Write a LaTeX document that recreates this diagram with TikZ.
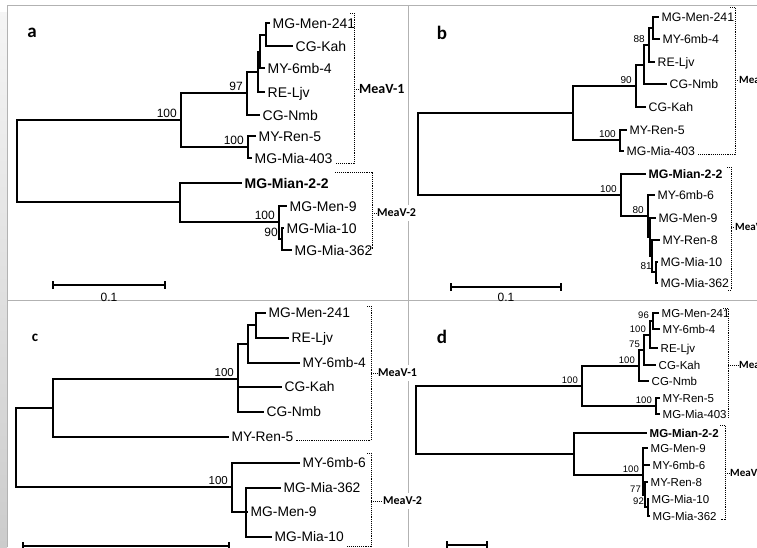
\documentclass[tikz,border=0pt]{standalone}
\usepackage{fontspec}
\setmainfont{Liberation Sans}
\newfontfamily\labfont{Carlito}
\usepackage{tikz}
\usetikzlibrary{arrows.meta}

\begin{document}
\begin{tikzpicture}[
x=1pt, y=-1pt,
br/.style={line width=2.5pt},
leaf/.style={anchor=west, inner xsep=2.5pt, inner ysep=0pt, text depth=0pt},
bs/.style={anchor=south east, inner sep=0pt, xshift=-4pt, yshift=2.5pt},
grp/.style={densely dotted, line width=0.9pt},
clade/.style={anchor=west, fill=white, inner xsep=1pt, inner ysep=4pt, font=\labfont\bfseries\fontsize{12}{14}\selectfont},
panel/.style={font=\labfont\bfseries\fontsize{19}{19}\selectfont},
sbar/.style={line width=1.6pt, {Bar[width=8pt]}-{Bar[width=8pt]}},
frm/.style={gray!60, line width=1pt}
]
\useasboundingbox (0,0) rectangle (757,547);
\clip (0,0) rectangle (757,547);
\shade[top color=gray!8, bottom color=gray!40] (0,12) rectangle (7,547);
\draw[frm] (7.5,547) -- (7.5,5) -- (757,5);
\draw[frm] (7.5,300) -- (757,300);
\draw[frm] (408,5) -- (408,547);

% panel a
\begin{scope}[leaf/.append style={font=\fontsize{14}{16}\selectfont, text height=10pt},
bs/.append style={font=\fontsize{12}{14}\selectfont}]
\node[panel] (la) at (32,33) {a};
\node[leaf] (a1) at (270,23) {MG-Men-241};
\node[leaf] (a2) at (293,46) {CG-Kah};
\node[leaf] (a3) at (265,68) {MY-6mb-4};
\node[leaf] (a4) at (265,92) {RE-Ljv};
\node[leaf] (a5) at (260,115) {CG-Nmb};
\node[leaf] (a6) at (256,136) {MY-Ren-5};
\node[leaf] (a7) at (252,158) {MG-Mia-403};
\node[leaf] (a8) at (242,183) {\bfseries MG-Mian-2-2};
\node[leaf] (a9) at (287,206) {MG-Men-9};
\node[leaf] (a10) at (284,228) {MG-Mia-10};
\node[leaf] (a11) at (292,250) {MG-Mia-362};
\coordinate (a-k1) at (266,35);
\coordinate (a-k2) at (260,52);
\coordinate (a-k3) at (258,72);
\coordinate (a-k4) at (247,93);
\coordinate (a-k5) at (248,147);
\coordinate (a-k6) at (181,120);
\coordinate (a-k9) at (282,239);
\coordinate (a-k8) at (279,222);
\coordinate (a-k7) at (180,202);
\coordinate (a-k0) at (17,161);
\draw[br] (a-k1) |- (a1.west) (a-k1) |- (a2.west)
 (a-k2) |- (a-k1) (a-k2) |- (a3.west)
 (a-k3) |- (a-k2) (a-k3) |- (a4.west)
 (a-k4) |- (a-k3) (a-k4) |- (a5.west)
 (a-k5) |- (a6.west) (a-k5) |- (a7.west)
 (a-k6) |- (a-k4) (a-k6) |- (a-k5)
 (a-k9) |- (a10.west) (a-k9) |- (a11.west)
 (a-k8) |- (a9.west) (a-k8) |- (a-k9)
 (a-k7) |- (a8.west) (a-k7) |- (a-k8)
 (a-k0) |- (a-k6) (a-k0) |- (a-k7);
\node[bs] (a-b4) at (a-k4) {97};
\node[bs] (a-b5) at (a-k5) {100};
\node[bs] (a-b6) at (a-k6) {100};
\node[bs] (a-b8) at (a-k8) {100};
\node[bs] (a-b9) at (a-k9) {90};
\coordinate (a-s1) at (52,285);
\coordinate (a-s2) at (166,285);
\draw[sbar] (a-s1) -- (a-s2);
\node[font=\fontsize{12}{14}\selectfont] (a-st) at (109,297) {0.1};
\node[clade, font=\labfont\bfseries\fontsize{14}{16}\selectfont] (a-c1) at (358,89) {MeaV-1};
\node[clade] (a-c2) at (376,213) {MeaV-2};
\coordinate (a-g1) at (354,13);
\coordinate (a-g2) at (354,163);
\coordinate (a-g3) at (372,172);
\coordinate (a-g4) at (372,248);
\draw[grp] ([xshift=-4pt]a-g1) -- (a-g1) -- (a-g2) -- (a7.south east |- a-g2);
\draw[grp] (a-c1.west -| a-g1) -- (a-c1.west);
\draw[grp] (a7.south east |- a-g3) -- (a-g3) -- (a-g4) -- ([xshift=-4pt]a-g4);
\draw[grp] (a-c2.west -| a-g3) -- (a-c2.west);
\end{scope}

% panel b
\begin{scope}[leaf/.append style={font=\fontsize{12.3}{14}\selectfont, text height=8.8pt},
bs/.append style={font=\fontsize{10}{12}\selectfont}]
\node[panel] (lb) at (442,33) {b};
\node[leaf] (b1) at (659,17) {MG-Men-241};
\node[leaf] (b2) at (660,39) {MY-6mb-4};
\node[leaf] (b3) at (655,62) {RE-Ljv};
\node[leaf] (b4) at (667,84) {CG-Nmb};
\node[leaf] (b5) at (646,107) {CG-Kah};
\node[leaf] (b6) at (627,130) {MY-Ren-5};
\node[leaf] (b7) at (624,151) {MG-Mia-403};
\node[leaf] (b8) at (646,174) {\bfseries MG-Mian-2-2};
\node[leaf] (b9) at (655,195) {MY-6mb-6};
\node[leaf] (b10) at (656,218) {MG-Men-9};
\node[leaf] (b11) at (660,240) {MY-Ren-8};
\node[leaf] (b12) at (658,262) {MG-Mia-10};
\node[leaf] (b13) at (658,283) {MG-Mia-362};
\coordinate (b-k1) at (653,28);
\coordinate (b-k2) at (649,45);
\coordinate (b-k3) at (644,65);
\coordinate (b-k4) at (636,86);
\coordinate (b-k5) at (620,140);
\coordinate (b-k6) at (573,113);
\coordinate (b-k11) at (656,272);
\coordinate (b-k10) at (652,256);
\coordinate (b-k9) at (650,237);
\coordinate (b-k8) at (648,216);
\coordinate (b-k7) at (621,195);
\coordinate (b-k0) at (418,154);
\draw[br] (b-k1) |- (b1.west) (b-k1) |- (b2.west)
 (b-k2) |- (b-k1) (b-k2) |- (b3.west)
 (b-k3) |- (b-k2) (b-k3) |- (b4.west)
 (b-k4) |- (b-k3) (b-k4) |- (b5.west)
 (b-k5) |- (b6.west) (b-k5) |- (b7.west)
 (b-k6) |- (b-k4) (b-k6) |- (b-k5)
 (b-k11) |- (b12.west) (b-k11) |- (b13.west)
 (b-k10) |- (b11.west) (b-k10) |- (b-k11)
 (b-k9) |- (b10.west) (b-k9) |- (b-k10)
 (b-k8) |- (b9.west) (b-k8) |- (b-k9)
 (b-k7) |- (b8.west) (b-k7) |- (b-k8)
 (b-k0) |- (b-k6) (b-k0) |- (b-k7);
\node[bs] (b-b2) at (b-k2) {88};
\node[bs] (b-b4) at (b-k4) {90};
\node[bs] (b-b5) at (b-k5) {100};
\node[bs] (b-b7) at (b-k7) {100};
\node[bs] (b-b8) at (b-k8) {80};
\node[bs] (b-b11) at (b-k11) {81};
\coordinate (b-s1) at (450,287);
\coordinate (b-s2) at (562,287);
\draw[sbar] (b-s1) -- (b-s2);
\node[font=\fontsize{12}{14}\selectfont] (b-st) at (506,297) {0.1};
\node[clade, font=\labfont\bfseries\fontsize{11}{13}\selectfont] (b-c1) at (738,80) {MeaV-1};
\node[clade, font=\labfont\bfseries\fontsize{11}{13}\selectfont] (b-c2) at (734,227) {MeaV-2};
\coordinate (b-g1) at (735,7);
\coordinate (b-g2) at (735,154);
\coordinate (b-g3) at (731,167);
\coordinate (b-g4) at (731,290);
\draw[grp] ([xshift=-5pt]b-g1) -- (b-g1) -- (b-g2) -- (b7.south east |- b-g2);
\draw[grp] (b-c1.west -| b-g1) -- (b-c1.west);
\draw[grp] ([xshift=-4pt]b-g3) -- (b-g3) -- (b-g4) -- ([xshift=-4pt]b-g4);
\draw[grp] (b-c2.west -| b-g3) -- (b-c2.west);
\end{scope}

% panel c
\begin{scope}[leaf/.append style={font=\fontsize{13.8}{16}\selectfont, text height=9.9pt},
bs/.append style={font=\fontsize{11.5}{13}\selectfont}]
\node[panel, font=\labfont\bfseries\fontsize{15}{15}\selectfont] (lc) at (35,338) {c};
\node[leaf] (c1) at (266,313) {MG-Men-241};
\node[leaf] (c2) at (289,338) {RE-Ljv};
\node[leaf] (c3) at (300,363) {MY-6mb-4};
\node[leaf] (c4) at (282,387) {CG-Kah};
\node[leaf] (c5) at (264,412) {CG-Nmb};
\node[leaf] (c6) at (229,437) {MY-Ren-5};
\node[leaf] (c7) at (300,463) {MY-6mb-6};
\node[leaf] (c8) at (281,488) {MG-Mia-362};
\node[leaf] (c9) at (248,512) {MG-Men-9};
\node[leaf] (c10) at (272,537) {MG-Mia-10};
\coordinate (c-k1) at (256,325);
\coordinate (c-k2) at (248,344);
\coordinate (c-k3) at (238,379);
\coordinate (c-k4) at (53,408);
\coordinate (c-k6) at (246,512);
\coordinate (c-k5) at (232,487);
\coordinate (c-k0) at (16,447);
\draw[br] (c-k1) |- (c1.west) (c-k1) |- (c2.west)
 (c-k2) |- (c-k1) (c-k2) |- (c3.west)
 (c-k3) |- (c-k2) (c-k3) |- (c4.west) (c-k3) |- (c5.west)
 (c-k4) |- (c-k3) (c-k4) |- (c6.west)
 (c-k6) |- (c8.west) (c-k6) |- (c9.west) (c-k6) |- (c10.west)
 (c-k5) |- (c7.west) (c-k5) |- (c-k6)
 (c-k0) |- (c-k4) (c-k0) |- (c-k5);
\node[bs] (c-b3) at (c-k3) {100};
\node[bs] (c-b5) at (c-k5) {100};
\coordinate (c-s1) at (22,546);
\coordinate (c-s2) at (230,546);
\draw[sbar] (c-s1) -- (c-s2);
\node[clade] (c-c1) at (377,373) {MeaV-1};
\node[clade] (c-c2) at (382,501) {MeaV-2};
\coordinate (c-g1) at (371,306);
\coordinate (c-g2) at (371,440);
\coordinate (c-g3) at (371,453);
\coordinate (c-g4) at (371,546);
\draw[grp] ([xshift=-4pt]c-g1) -- (c-g1) -- (c-g2) -- (c6.south east |- c-g2);
\draw[grp] (c-c1.west -| c-g1) -- (c-c1.west);
\draw[grp] ([xshift=-4pt]c-g3) -- (c-g3) -- (c-g4) -- (c10.south east |- c-g4);
\draw[grp] (c-c2.west -| c-g3) -- (c-c2.west);
\end{scope}

% panel d
\begin{scope}[br/.append style={line width=2.2pt},
leaf/.append style={font=\fontsize{11.5}{13}\selectfont, text height=8.2pt},
bs/.append style={font=\fontsize{9.5}{11}\selectfont}]
\node[panel] (ld) at (442,337) {d};
\node[leaf] (d1) at (659,313) {MG-Men-241};
\node[leaf] (d2) at (660,329) {MY-6mb-4};
\node[leaf] (d3) at (658,348) {RE-Ljv};
\node[leaf] (d4) at (656,365) {CG-Kah};
\node[leaf] (d5) at (649,381) {CG-Nmb};
\node[leaf] (d6) at (660,398) {MY-Ren-5};
\node[leaf] (d7) at (660,414) {MG-Mia-403};
\node[leaf] (d8) at (647,433) {\bfseries MG-Mian-2-2};
\node[leaf] (d9) at (648,448) {MG-Men-9};
\node[leaf] (d10) at (650,465) {MY-6mb-6};
\node[leaf] (d11) at (648,482) {MY-Ren-8};
\node[leaf] (d12) at (649,499) {MG-Mia-10};
\node[leaf] (d13) at (650,516) {MG-Mia-362};
\coordinate (d-k1) at (653,321);
\coordinate (d-k2) at (650,335);
\coordinate (d-k3) at (644,350);
\coordinate (d-k4) at (639,366);
\coordinate (d-k5) at (656,406);
\coordinate (d-k6) at (582,386);
\coordinate (d-k10) at (648,507);
\coordinate (d-k9) at (645,495);
\coordinate (d-k8) at (643,475);
\coordinate (d-k7) at (574,454);
\coordinate (d-k0) at (416,420);
\draw[br] (d-k1) |- (d1.west) (d-k1) |- (d2.west)
 (d-k2) |- (d-k1) (d-k2) |- (d3.west)
 (d-k3) |- (d-k2) (d-k3) |- (d4.west)
 (d-k4) |- (d-k3) (d-k4) |- (d5.west)
 (d-k5) |- (d6.west) (d-k5) |- (d7.west)
 (d-k6) |- (d-k4) (d-k6) |- (d-k5)
 (d-k10) |- (d12.west) (d-k10) |- (d13.west)
 (d-k9) |- (d11.west) (d-k9) |- (d-k10)
 (d-k8) |- (d9.west) (d-k8) |- (d10.west) (d-k8) |- (d-k9)
 (d-k7) |- (d8.west) (d-k7) |- (d-k8)
 (d-k0) |- (d-k6) (d-k0) |- (d-k7);
\node[bs] (d-b1) at (d-k1) {96};
\node[bs] (d-b2) at (d-k2) {100};
\node[bs] (d-b3) at (d-k3) {75};
\node[bs] (d-b4) at (d-k4) {100};
\node[bs] (d-b5) at (d-k5) {100};
\node[bs] (d-b6) at (d-k6) {100};
\node[bs] (d-b8) at (d-k8) {100};
\node[bs] (d-b9) at (d-k9) {77};
\node[bs] (d-b10) at (d-k10) {92};
\coordinate (d-s1) at (446,545);
\coordinate (d-s2) at (488,545);
\draw[sbar] (d-s1) -- (d-s2);
\node[clade, font=\labfont\bfseries\fontsize{11}{13}\selectfont] (d-c1) at (738,365) {MeaV-1};
\node[clade, font=\labfont\bfseries\fontsize{11}{13}\selectfont] (d-c2) at (729,473) {MeaV-2};
\coordinate (d-g1) at (728,308);
\coordinate (d-g2) at (728,417);
\coordinate (d-g3) at (725,425);
\coordinate (d-g4) at (725,519);
\draw[grp] ([xshift=-5pt]d-g1) -- (d-g1) -- (d-g2) -- (d7.south east |- d-g2);
\draw[grp] (d-c1.west -| d-g1) -- (d-c1.west);
\draw[grp] ([xshift=-5pt]d-g3) -- (d-g3) -- (d-g4) -- ([xshift=-5pt]d-g4);
\draw[grp] (d-c2.west -| d-g3) -- (d-c2.west);
\end{scope}
\end{tikzpicture}
\end{document}
